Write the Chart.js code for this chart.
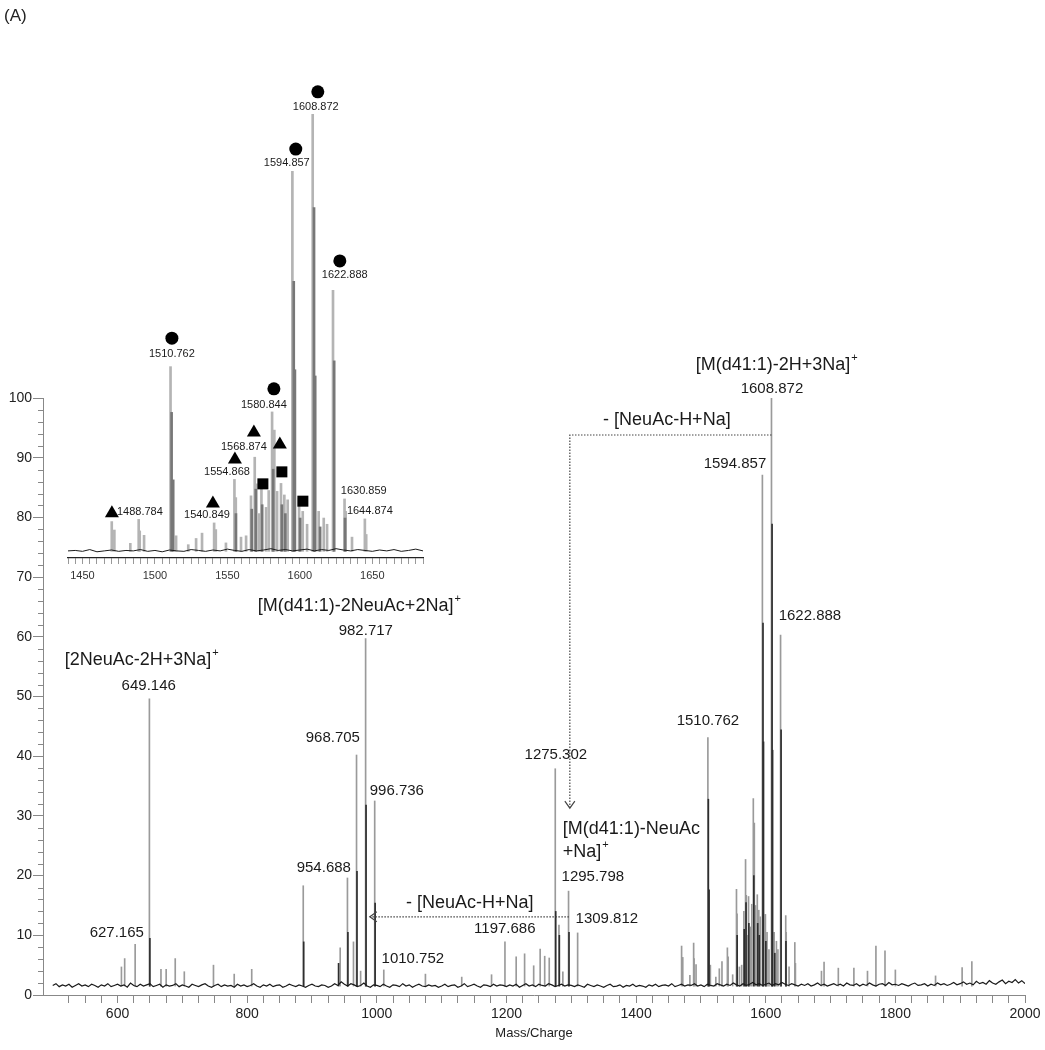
<!DOCTYPE html>
<html>
<head>
<meta charset="utf-8">
<script src="https://cdn.jsdelivr.net/npm/chart.js@4.4.1/dist/chart.umd.min.js"></script>
<style>
  body { margin: 0; background: #fff; }
  #wrap { position: relative; width: 1045px; height: 1050px; }
  #main { position: absolute; left: 0; top: 0; }
  #inset { position: absolute; left: 0; top: 60px; }
  #tag { position: absolute; left: 4px; top: 6px; font: 17px "Liberation Sans", Arial, sans-serif; color: #222; }
</style>
</head>
<body>
<div id="wrap">
  <canvas id="main" width="1045" height="1050"></canvas>
  <canvas id="inset" width="450" height="540"></canvas>
  <div id="tag">(A)</div>
</div>
<script>
// peaks (m/z, relative intensity)
var greyMz = [606, 611, 627.165, 649.146, 667, 675, 689, 703, 748, 780, 807,
  886.5, 943.5, 954.688, 964, 968.705, 975, 982.717, 996.736, 1010.752,
  1075, 1131, 1177, 1197.686, 1215, 1228, 1242, 1252, 1259, 1266, 1275.302, 1281, 1287, 1295.798, 1309.812,
  1470.2, 1472, 1483, 1488.784, 1489.5, 1492.5, 1510.762, 1514.6, 1523, 1528.4, 1532.5,
  1540.849, 1542, 1549, 1554.868, 1555.8, 1559.4, 1562.9, 1566.3, 1568.874, 1570,
  1572, 1573.5, 1576.7, 1578.5, 1580.844, 1582.4, 1584.3, 1587, 1589.3, 1591.6,
  1594.857, 1599.5, 1602, 1605, 1608.872, 1613, 1616.5, 1618.8, 1622.888, 1630.859,
  1631.6, 1636, 1644.874, 1645.8,
  1686, 1690, 1712, 1736, 1757, 1770, 1784, 1800, 1862, 1903, 1918];
var greyInt = [4.7, 6.1, 8.5, 49.6, 4.3, 4.3, 6.1, 3.9, 5.0, 3.5, 4.3,
  18.3, 7.9, 19.6, 8.9, 40.2, 4.0, 59.7, 32.5, 4.2,
  3.5, 3.0, 3.4, 8.9, 6.4, 6.9, 4.9, 7.7, 6.5, 6.2, 37.9, 11.7, 3.9, 17.4, 10.4,
  8.2, 6.3, 3.3, 8.7, 6.1, 5.1, 43.1, 5.0, 3.0, 4.4, 5.6,
  7.9, 6.4, 3.4, 17.7, 13.6, 4.7, 5.0, 14.0, 22.7, 16.7,
  10.0, 16.5, 11.4, 15.2, 32.9, 28.8, 15.0, 16.8, 14.2, 13.1,
  87.1, 13.5, 10.5, 7.6, 100, 10.5, 9.0, 7.6, 60.3, 13.3,
  10.5, 4.7, 8.8, 5.3,
  4.0, 5.5, 4.5, 4.5, 4.0, 8.2, 7.4, 4.2, 3.2, 4.6, 5.6];

// darker overlay trace on the big peaks
var darkMz = [649.9, 887.2, 941, 955.4, 969.4, 983.4, 997.4, 1276, 1281.6, 1296.5,
  1511.5, 1512.6, 1555.9, 1566.8, 1569.6, 1574, 1581.6, 1587.6, 1590, 1595.8, 1596.6,
  1600.2, 1609.8, 1610.6, 1614, 1623.7, 1631.2];
var darkInt = [9.5, 8.9, 5.3, 10.5, 20.7, 31.8, 15.4, 14.0, 10.0, 10.5,
  32.8, 17.6, 10.0, 11.0, 15.5, 12.0, 20.0, 12.0, 10.0, 62.3, 42.4,
  9.0, 78.9, 41.0, 7.0, 44.4, 9.0];

// baseline noise, one reading every 5 m/z from 500 to 2000
var noiseStart = 500, noiseStep = 5;
var noise = [
  1.6,1.9,1.4,1.7,1.5,1.8,1.3,1.6,1.9,1.5,1.7,1.4,1.8,1.6,1.3,1.7,1.5,1.9,1.4,1.6,
  1.8,1.5,1.7,1.3,2.0,1.6,1.4,1.8,1.5,1.7,1.9,1.4,1.6,1.8,1.3,1.7,1.5,1.6,1.9,1.4,
  1.7,1.5,1.3,1.8,1.6,1.4,1.7,1.9,1.5,1.3,1.6,1.8,1.4,1.7,1.5,1.6,1.3,1.8,1.5,1.7,
  1.4,1.6,1.9,1.5,1.3,1.7,1.5,1.8,1.4,1.6,1.7,1.3,1.5,1.8,1.6,1.4,1.7,1.5,1.3,1.6,
  1.8,1.5,1.4,1.7,1.6,1.3,1.5,1.9,1.6,2.2,1.8,1.5,1.9,1.7,1.4,1.6,2.0,1.5,1.3,1.7,
  1.6,1.4,1.8,1.5,1.3,1.7,1.6,1.4,1.9,1.5,1.7,1.3,1.6,1.8,1.5,1.4,1.7,1.5,1.6,1.3,
  1.5,1.8,1.4,1.6,1.7,1.3,1.5,1.9,1.4,1.6,1.8,1.5,1.3,1.7,1.6,1.4,1.8,1.5,1.7,1.6,
  1.4,1.7,1.5,1.8,1.3,1.6,1.9,1.5,1.7,1.4,1.8,1.6,1.5,1.9,1.7,1.4,1.6,1.8,1.5,1.7,
  1.6,1.4,1.7,1.5,1.3,1.8,1.6,1.4,1.7,1.5,1.3,1.6,1.8,1.4,1.5,1.7,1.3,1.6,1.5,1.8,
  1.4,1.6,1.5,1.3,1.7,1.5,1.8,1.4,1.6,1.7,1.5,1.9,1.4,1.6,1.8,1.5,1.7,1.6,1.9,1.5,
  1.7,1.4,1.8,1.6,1.5,1.9,1.7,1.5,1.8,1.6,2.0,1.7,1.5,1.9,1.6,1.8,2.1,1.7,1.9,1.6,
  1.8,2.0,1.6,1.9,1.7,2.1,1.8,1.6,1.9,1.7,1.5,1.8,1.6,1.9,1.5,1.7,2.0,1.6,1.8,1.5,
  1.7,1.9,1.6,1.8,1.5,2.0,1.7,1.6,1.9,1.5,1.8,1.6,2.0,1.7,1.5,1.8,1.9,1.6,2.1,1.7,
  1.8,1.6,1.9,1.7,1.5,1.8,2.0,1.6,1.7,1.9,1.5,1.8,1.6,2.0,1.7,1.9,1.6,1.8,2.1,1.7,
  1.9,2.2,1.8,2.0,1.7,2.3,1.9,2.1,1.8,2.4,2.0,1.8,2.2,2.5,1.9,2.3,2.1,2.6,2.0,2.4,
  1.9];

var stickBase = 1.5;
var FONT = '"Liberation Sans", Arial, sans-serif';

// text labels on the main plot (data coordinates)
var mainNotes = [
  {t: '[2NeuAc-2H+3Na]', sup: '+', x: 518.5, y: 56.1, s: 18, a: 'left'},
  {t: '649.146', x: 648.1, y: 51.8},
  {t: '627.165', x: 598.8, y: 10.4},
  {t: '[M(d41:1)-2NeuAc+2Na]', sup: '+', x: 816.4, y: 65.2, s: 18, a: 'left'},
  {t: '982.717', x: 983.0, y: 61.0},
  {t: '968.705', x: 932.1, y: 43.0},
  {t: '996.736', x: 1030.9, y: 34.2},
  {t: '954.688', x: 918.2, y: 21.3},
  {t: '1010.752', x: 1055.6, y: 6.0},
  {t: '- [NeuAc-H+Na]', x: 1143.5, y: 15.4, s: 18},
  {t: '1197.686', x: 1197.5, y: 11.1},
  {t: '1275.302', x: 1276.2, y: 40.2},
  {t: '[M(d41:1)-NeuAc', x: 1287.0, y: 27.8, s: 18, a: 'left'},
  {t: '+Na]', sup: '+', x: 1287.0, y: 24.0, s: 18, a: 'left'},
  {t: '1295.798', x: 1333.3, y: 19.8},
  {t: '1309.812', x: 1354.9, y: 12.7},
  {t: '1510.762', x: 1510.8, y: 45.9},
  {t: '- [NeuAc-H+Na]', x: 1447.5, y: 96.3, s: 18},
  {t: '[M(d41:1)-2H+3Na]', sup: '+', x: 1617, y: 105.5, s: 18},
  {t: '1608.872', x: 1609.6, y: 101.5},
  {t: '1594.857', x: 1552.5, y: 88.9},
  {t: '1622.888', x: 1668.2, y: 63.5}
];
var mainArrows = [
  {pts: [[1608.872, 93.8], [1297.8, 93.8], [1297.8, 31.3]], head: 'down'},
  {pts: [[1296.3, 13.1], [989.2, 13.1]], head: 'left'}
];

var insetNotes = [
  {t: '1608.872', x: 1611.0, y: 101.6},
  {t: '1594.857', x: 1591.0, y: 89.0},
  {t: '1622.888', x: 1631.0, y: 63.7},
  {t: '1510.762', x: 1511.7, y: 45.9},
  {t: '1580.844', x: 1575.2, y: 34.5},
  {t: '1568.874', x: 1561.4, y: 25.0},
  {t: '1554.868', x: 1549.7, y: 19.4},
  {t: '1540.849', x: 1535.9, y: 9.7},
  {t: '1488.784', x: 1473.8, y: 10.4, a: 'left'},
  {t: '1630.859', x: 1644.1, y: 15.1},
  {t: '1644.874', x: 1648.3, y: 10.6}
];
var insetMarks = [
  {k: 'circle', x: 1612.4, y: 105.0}, {k: 'circle', x: 1597.2, y: 92.1}, {k: 'circle', x: 1627.6, y: 66.9},
  {k: 'circle', x: 1511.7, y: 49.5}, {k: 'circle', x: 1582.1, y: 38.1},
  {k: 'tri', x: 1470.3, y: 10.4}, {k: 'tri', x: 1540.0, y: 12.6}, {k: 'tri', x: 1555.2, y: 22.5},
  {k: 'tri', x: 1568.3, y: 28.6}, {k: 'tri', x: 1586.2, y: 25.9},
  {k: 'sq', x: 1574.5, y: 16.7}, {k: 'sq', x: 1587.6, y: 19.4}, {k: 'sq', x: 1602.1, y: 12.8}
];

function sticks(mz, vals) {
  return mz.map(function(m, i) { return {x: m, y: [stickBase, vals[i]]}; });
}
function noisePts() {
  return noise.map(function(v, i) { return {x: noiseStart + i * noiseStep, y: v}; });
}

function annotate(id, notes, size, marks, arrows, minorY) {
  return {
    id: id,
    afterDraw: function(chart) {
      var ctx = chart.ctx, xs = chart.scales.x, ys = chart.scales.y;
      ctx.save();
      if (minorY) {
        ctx.strokeStyle = '#888';
        ctx.lineWidth = 1;
        for (var v = 0; v <= 100; v += 2) {
          if (v % 10 === 0) continue;
          var py = Math.round(ys.getPixelForValue(v)) + 0.5;
          ctx.beginPath();
          ctx.moveTo(chart.chartArea.left - 5, py);
          ctx.lineTo(chart.chartArea.left, py);
          ctx.stroke();
        }
      }
      (arrows || []).forEach(function(a) {
        ctx.strokeStyle = '#444';
        ctx.lineWidth = 1.2;
        ctx.setLineDash([1.5, 1.5]);
        ctx.beginPath();
        a.pts.forEach(function(p, i) {
          var px = xs.getPixelForValue(p[0]), py = ys.getPixelForValue(p[1]);
          if (i === 0) ctx.moveTo(px, py); else ctx.lineTo(px, py);
        });
        ctx.stroke();
        ctx.setLineDash([]);
        var end = a.pts[a.pts.length - 1];
        var ex = xs.getPixelForValue(end[0]), ey = ys.getPixelForValue(end[1]);
        ctx.beginPath();
        if (a.head === 'down') {
          ctx.moveTo(ex - 5, ey - 7); ctx.lineTo(ex, ey); ctx.lineTo(ex + 5, ey - 7);
        } else {
          ctx.moveTo(ex + 7, ey - 5); ctx.lineTo(ex, ey); ctx.lineTo(ex + 7, ey + 5);
        }
        ctx.stroke();
      });
      (marks || []).forEach(function(m) {
        var px = xs.getPixelForValue(m.x), py = ys.getPixelForValue(m.y);
        ctx.fillStyle = '#000';
        ctx.beginPath();
        if (m.k === 'circle') {
          ctx.arc(px, py, 6.5, 0, Math.PI * 2);
        } else if (m.k === 'tri') {
          ctx.moveTo(px, py - 6.5); ctx.lineTo(px + 7, py + 5.5); ctx.lineTo(px - 7, py + 5.5); ctx.closePath();
        } else {
          ctx.rect(px - 5.5, py - 5.5, 11, 11);
        }
        ctx.fill();
      });
      ctx.fillStyle = '#1a1a1a';
      ctx.textBaseline = 'middle';
      notes.forEach(function(n) {
        var fs = n.s || size;
        var px = xs.getPixelForValue(n.x), py = ys.getPixelForValue(n.y);
        ctx.font = fs + 'px ' + FONT;
        var w = ctx.measureText(n.t).width, sw = 0;
        var supFont = Math.round(fs * 0.62) + 'px ' + FONT;
        if (n.sup) {
          ctx.font = supFont;
          sw = ctx.measureText(n.sup).width + 1;
        }
        var left = n.a === 'left' ? px : px - (w + sw) / 2;
        ctx.font = fs + 'px ' + FONT;
        ctx.textAlign = 'left';
        ctx.fillText(n.t, left, py);
        if (n.sup) {
          ctx.font = supFont;
          ctx.fillText(n.sup, left + w + 1, py - fs * 0.38);
        }
      });
      ctx.restore();
    }
  };
}

var mainChart = new Chart(document.getElementById('main'), {
  type: 'bar',
  data: {
    datasets: [
      {type: 'line', data: noisePts(), borderColor: '#1a1a1a', borderWidth: 1.2, pointRadius: 0, order: 0},
      {data: sticks(darkMz, darkInt), backgroundColor: '#2e2e2e', barThickness: 1, grouped: false, order: 1},
      {data: sticks(greyMz, greyInt), backgroundColor: '#9a9a9a', barThickness: 1, grouped: false, order: 2}
    ]
  },
  options: {
    responsive: false,
    animation: false,
    layout: {padding: {top: 398, right: 20, left: 0, bottom: 0}},
    plugins: {legend: {display: false}, tooltip: {enabled: false}},
    scales: {
      x: {
        type: 'linear', min: 485, max: 2000, offset: false,
        afterBuildTicks: function(s) { s.ticks = s.ticks.filter(function(t) { return t.value % 25 === 0; }); },
        afterFit: function(s) { s.height = 55; },
        ticks: {
          stepSize: 25, autoSkip: false, maxRotation: 0, padding: 3, color: '#222',
          font: {size: 14, family: FONT},
          callback: function(v) { return v % 200 === 0 ? v : ''; }
        },
        grid: {offset: false, drawOnChartArea: false, tickLength: 8, color: '#888'},
        border: {color: '#888'},
        title: {display: true, text: 'Mass/Charge', color: '#222', font: {size: 13, family: FONT}, padding: {top: 0, bottom: 9}}
      },
      y: {
        min: 0, max: 100,
        afterFit: function(s) { s.width = 43; },
        ticks: {stepSize: 10, autoSkip: false, padding: 1, color: '#222', font: {size: 14, family: FONT}},
        grid: {drawOnChartArea: false, tickLength: 10, color: '#888'},
        border: {color: '#888'}
      }
    }
  },
  plugins: [annotate('mainNotes', mainNotes, 15, null, mainArrows, true)]
});

var insetChart = new Chart(document.getElementById('inset'), {
  type: 'bar',
  data: {
    datasets: [
      {type: 'line', data: noisePts(), borderColor: '#1a1a1a', borderWidth: 1, pointRadius: 0, order: 0},
      {data: sticks(darkMz, darkInt), backgroundColor: '#777', barThickness: 2, grouped: false, order: 1},
      {data: sticks(greyMz, greyInt), backgroundColor: '#b4b4b4', barThickness: 2, grouped: false, order: 2}
    ]
  },
  options: {
    responsive: false,
    animation: false,
    layout: {padding: {top: 54, right: 27, left: 68, bottom: 0}},
    plugins: {legend: {display: false}, tooltip: {enabled: false}},
    scales: {
      x: {
        type: 'linear', min: 1440, max: 1685, offset: false,
        afterBuildTicks: function(s) { s.ticks = s.ticks.filter(function(t) { return t.value % 5 === 0; }); },
        afterFit: function(s) { s.height = 42; },
        ticks: {
          stepSize: 5, autoSkip: false, maxRotation: 0, padding: 5, color: '#333',
          font: {size: 11, family: FONT},
          callback: function(v) { return v % 50 === 0 ? v : ''; }
        },
        grid: {offset: false, drawOnChartArea: false, tickLength: 6, color: '#999'},
        border: {color: '#222', width: 1.2}
      },
      y: {display: false, min: 0, max: 100}
    }
  },
  plugins: [annotate('insetNotes', insetNotes, 11, insetMarks, null, false)]
});
</script>
</body>
</html>
